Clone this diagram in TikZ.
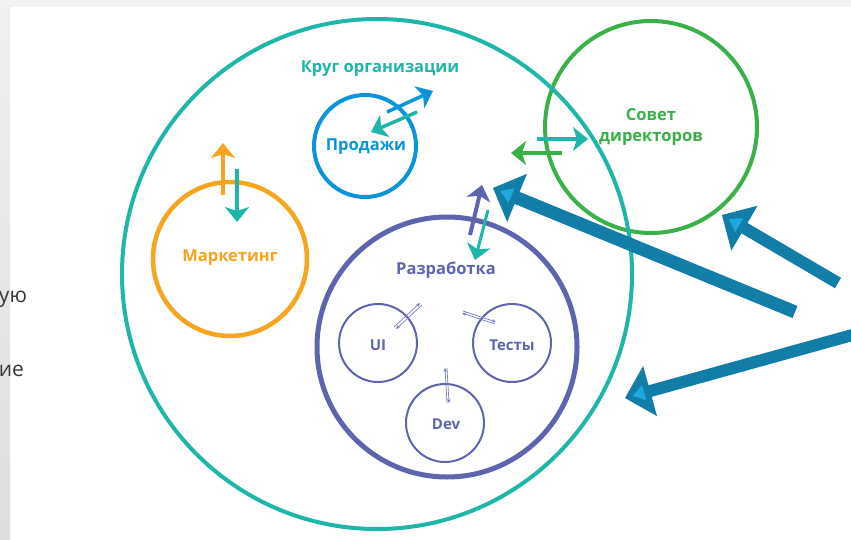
\documentclass[tikz,border=0pt]{standalone}
\usepackage{fontspec}
\setmainfont{Open Sans}
\newfontfamily\slidefont{Open Sans}
\usetikzlibrary{arrows.meta,calc}
\definecolor{cteal}{RGB}{30,182,168}
\definecolor{cgreen}{RGB}{58,176,72}
\definecolor{corange}{RGB}{247,164,30}
\definecolor{cblue}{RGB}{10,148,218}
\definecolor{cpurple}{RGB}{94,101,175}
\definecolor{csmall}{RGB}{120,126,196}
\definecolor{cdark}{RGB}{18,125,166}
\definecolor{clight}{RGB}{30,168,224}
\definecolor{cslide}{RGB}{55,55,55}
\newcommand{\bigarr}[3]{% #1 tail, #2 tip, #3 shaft width
  \draw[line width=#3, cdark] (#1) -- ($(#2)!20pt!(#1)$);
  \fill[cdark] (#2) -- ($(#2)!36.8pt!45:(#1)$) -- ($(#2)!36.8pt!-45:(#1)$) -- cycle;
  \fill[clight] ($(#2)!8pt!(#1)$) -- ($(#2)!21.5pt!21.8:(#1)$) -- ($(#2)!21.5pt!-21.8:(#1)$) -- cycle;
}
\begin{document}
\begin{tikzpicture}[x=1pt,y=-1pt,
  every node/.style={inner sep=0pt,outer sep=0pt},
  ring/.style={circle,draw,fill=none},
  lbl/.style={font=\bfseries\fontsize{16.5}{18}\selectfont},
  slbl/.style={font=\bfseries\fontsize{15}{17}\selectfont},
  medarr/.style={line width=4pt,-{Stealth[length=15pt,width=24pt,inset=4pt]}},
  smallarr/.style={line width=0.7pt,draw=csmall,-{Stealth[length=4pt,width=3.5pt]}}]
\useasboundingbox (0,0) rectangle (851,540);
% slide background
\fill[white] (0,0) rectangle (851,540);
\fill[black!5] (0,0) rectangle (851,7);
\shade[top color=black!6,bottom color=black!13] (0,7) rectangle (10,540);
\node[anchor=base east,text=cslide,font=\slidefont\fontsize{21}{24}\selectfont] (t1) at (27,302) {ую};
\node[anchor=base east,text=cslide,font=\slidefont\fontsize{21}{24}\selectfont] (t2) at (24,376) {ие};
% circles
\node[ring,draw=cgreen,line width=4pt,minimum size=212pt] (sovet) at (651,127) {};
\node[ring,draw=cteal,line width=4pt,minimum size=510pt] (org) at (377,274) {};
\node[ring,draw=corange,line width=4.5pt,minimum size=154pt] (mark) at (230,259) {};
\node[ring,draw=cblue,line width=4pt,minimum size=102pt] (sales) at (365,146) {};
\node[ring,draw=cpurple,line width=5pt,minimum size=260pt] (dev) at (447,347) {};
\node[ring,draw=cpurple,line width=2pt,minimum size=78pt] (ui) at (378,343) {};
\node[ring,draw=cpurple,line width=2pt,minimum size=78pt] (tests) at (512,343) {};
\node[ring,draw=cpurple,line width=2pt,minimum size=78pt] (devc) at (445,423) {};
% labels
\node[lbl,text=cteal] (lorg) at (380,69) {Круг организации};
\node[lbl,text=cgreen,align=center,font=\bfseries\fontsize{16.5}{21}\selectfont] (lsovet) at (651,127) {Совет\\директоров};
\node[lbl,text=corange] (lmark) at (230,258) {Маркетинг};
\node[lbl,text=cblue] (lsales) at (366,147) {Продажи};
\node[lbl,text=cpurple] (ldev) at (446,270) {Разработка};
\node[slbl,text=cpurple] (lui) at (378,345) {UI};
\node[slbl,text=cpurple] (ltests) at (512,345) {Тесты};
\node[slbl,text=cpurple] (ldevc) at (446,424) {Dev};
% medium arrows
\coordinate (m1a) at (223,195); \coordinate (m1b) at (223,143);
\coordinate (m2a) at (237,169); \coordinate (m2b) at (237,222);
\draw[medarr,corange] (m1a) -- (m1b);
\draw[medarr,cteal] (m2a) -- (m2b);
\coordinate (s1a) at (387,112); \coordinate (s1b) at (433,91);
\coordinate (s2a) at (417,112); \coordinate (s2b) at (371,132);
\draw[medarr,cblue,line width=3.5pt] (s1a) -- (s1b);
\draw[medarr,cteal,line width=3.5pt] (s2a) -- (s2b);
\coordinate (b1a) at (537,139); \coordinate (b1b) at (588,139);
\coordinate (b2a) at (562,153); \coordinate (b2b) at (511,153);
\draw[medarr,cteal] (b1a) -- (b1b);
\draw[medarr,cgreen] (b2a) -- (b2b);
\coordinate (d1a) at (470,235); \coordinate (d1b) at (482,185);
\coordinate (d2a) at (488,210); \coordinate (d2b) at (475,260);
\draw[medarr,cpurple] (d1a) -- (d1b);
\draw[medarr,cteal,line width=3pt] (d2a) -- (d2b);
% small arrows inside development
\coordinate (u1) at (394,327); \coordinate (u2) at (420,303);
\coordinate (u3) at (396,329); \coordinate (u4) at (422,305);
\draw[smallarr] (u1) -- (u2);
\draw[smallarr] (u4) -- (u3);
\coordinate (e1) at (463,311); \coordinate (e2) at (496,322);
\coordinate (e3) at (462,313); \coordinate (e4) at (495,324);
\draw[smallarr] (e1) -- (e2);
\draw[smallarr] (e4) -- (e3);
\coordinate (v1) at (445,368); \coordinate (v2) at (447,403);
\coordinate (v3) at (447,368); \coordinate (v4) at (449,403);
\draw[smallarr] (v2) -- (v1);
\draw[smallarr] (v3) -- (v4);
% big arrows
\coordinate (A1t) at (795,312); \coordinate (A1h) at (493,188);
\coordinate (A2t) at (838,283); \coordinate (A2h) at (722,215);
\coordinate (A3t) at (856,334); \coordinate (A3h) at (625,398);
\bigarr{A1t}{A1h}{13pt}
\bigarr{A2t}{A2h}{12pt}
\bigarr{A3t}{A3h}{12pt}
\end{tikzpicture}
\end{document}
